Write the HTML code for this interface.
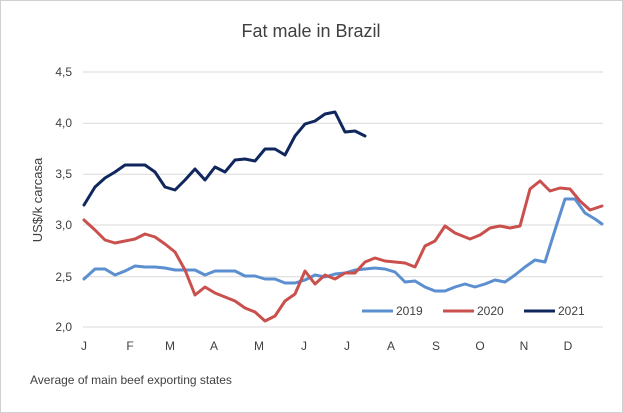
<!DOCTYPE html>
<html><head><style>
html,body{margin:0;padding:0;background:#fff}
svg{display:block}
text{font-family:"Liberation Sans",sans-serif;fill:#404040}
</style></head><body>
<svg width="623" height="413" viewBox="0 0 623 413" xmlns="http://www.w3.org/2000/svg">
<rect x="0.5" y="0.5" width="622" height="412" fill="#fff" stroke="#d0d0d0"/>
<text x="311" y="37" font-size="18" text-anchor="middle" fill="#404040">Fat male in Brazil</text>
<g stroke="#d9d9d9" stroke-width="1">
<line x1="83" x2="603" y1="72" y2="72"/>
<line x1="83" x2="603" y1="123.3" y2="123.3"/>
<line x1="83" x2="603" y1="174.3" y2="174.3"/>
<line x1="83" x2="603" y1="225" y2="225"/>
<line x1="83" x2="603" y1="276.7" y2="276.7"/>
<line x1="83" x2="603" y1="327" y2="327"/>
</g>
<g font-size="12" text-anchor="end">
<text x="72" y="76">4,5</text><text x="72" y="127">4,0</text><text x="72" y="178">3,5</text>
<text x="72" y="229">3,0</text><text x="72" y="281">2,5</text><text x="72" y="331">2,0</text>
</g>
<text transform="translate(42,200) rotate(-90)" font-size="13" text-anchor="middle">US$/k carcasa</text>
<g font-size="12" text-anchor="middle">
<text x="84" y="350">J</text><text x="130" y="350">F</text><text x="170" y="350">M</text><text x="214" y="350">A</text>
<text x="259" y="350">M</text><text x="304" y="350">J</text><text x="347" y="350">J</text><text x="391" y="350">A</text>
<text x="436" y="350">S</text><text x="480" y="350">O</text><text x="524" y="350">N</text><text x="568" y="350">D</text>
</g>
<g fill="none" stroke-width="3" stroke-linejoin="round" stroke-linecap="round">
<polyline stroke="#5b8fd0" points="84,279 95,269 105,269 115,275 125,271 135,266 145,267 155,267 165,268 175,270 185,270 195,270 205,275 215,271 225,271 235,271 245,276 255,276 265,279 275,279 285,283 295,283 305,280 315,275 325,277 335,274 345,273 355,270 365,269 375,268 385,269 395,272 405,282 415,281 425,287 435,291 445,291 455,287 465,284 475,287 485,284 495,280 505,282 515,275 525,267 535,260 545,262 555,230 565,199 575,199 585,213 595,219 602,224"/>
<polyline stroke="#c9504c" points="84,220 95,230 105,240 115,243 125,241 135,239 145,234 155,237 165,244 175,252 185,270 195,295 205,287 215,293 225,297 235,301 245,308 255,312 265,321 275,316 285,301 295,294 305,271 315,284 325,275 335,279 345,273 355,273 365,262 375,258 385,261 395,262 405,263 415,267 425,246 435,241 445,226 455,233 470,239 480,235 490,228 500,226 510,228 520,226 530,189 540,181 550,191 560,188 570,189 580,201 590,210 602,206"/>
<polyline stroke="#10275e" points="84,205 95,187 105,178 115,172 125,165 135,165 145,165 155,172 165,187 175,190 185,180 195,169 205,180 215,167 225,172 235,160 245,159 255,161 265,149 275,149 285,155 295,136 305,124 315,121 325,114 335,112 345,132 355,131 365,136"/>
</g>
<g stroke-width="3">
<line x1="362" x2="393" y1="311" y2="311" stroke="#5b8fd0"/>
<line x1="443" x2="474" y1="311" y2="311" stroke="#c9504c"/>
<line x1="524" x2="555" y1="311" y2="311" stroke="#10275e"/>
</g>
<g font-size="12">
<text x="396" y="315">2019</text><text x="477" y="315">2020</text><text x="558" y="315">2021</text>
</g>
<text x="30" y="384" font-size="12">Average of main beef exporting states</text>
</svg>
</body></html>
